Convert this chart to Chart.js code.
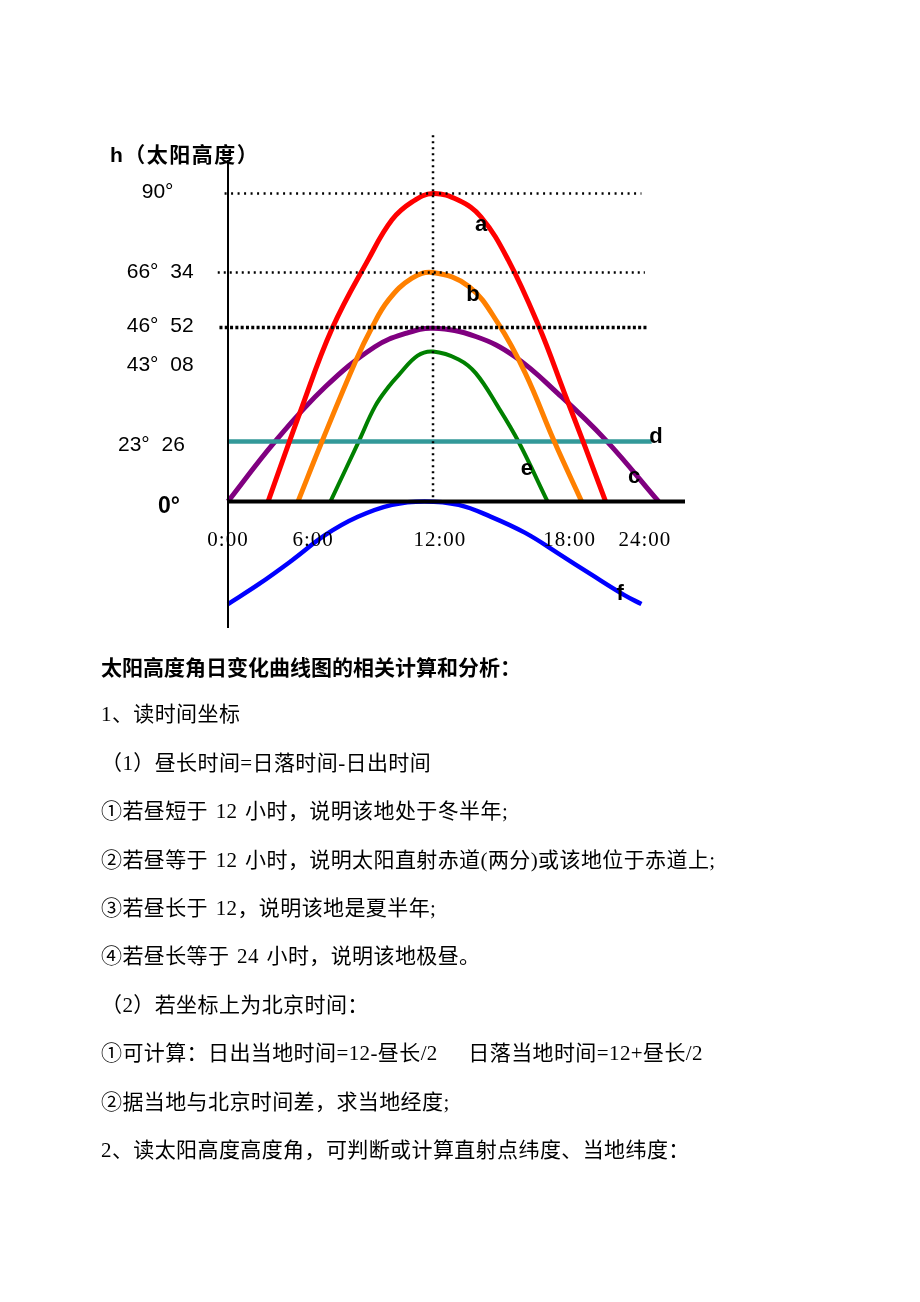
<!DOCTYPE html>
<html lang="zh-CN">
<head>
<meta charset="utf-8">
<title>太阳高度角日变化曲线图</title>
<script src="https://cdn.jsdelivr.net/npm/chart.js@4.4.1/dist/chart.umd.min.js"></script>
<style>
  html, body { margin: 0; padding: 0; background: #fff; }
  body { width: 920px; height: 1302px; position: relative; overflow: hidden; }
  #solarChart { position: absolute; left: 0; top: 0; }
  .notes {
    position: absolute;
    left: 101px;
    top: 642px;
    color: #000;
    font: 21px/48.4px "Liberation Serif", "Noto Sans CJK SC", serif;
  }
  .notes p { margin: 0; white-space: nowrap; word-spacing: 2px; letter-spacing: 0.4px; }
  .notes .title { font-family: "Noto Sans CJK SC", sans-serif; font-weight: bold; letter-spacing: 0; }
</style>
</head>
<body>
<canvas id="solarChart" width="920" height="650"></canvas>

<div class="notes">
  <p class="title">太阳高度角日变化曲线图的相关计算和分析：</p>
  <p>1、读时间坐标</p>
  <p>（1）昼长时间=日落时间-日出时间</p>
  <p>①若昼短于 12 小时，说明该地处于冬半年;</p>
  <p>②若昼等于 12 小时，说明太阳直射赤道(两分)或该地位于赤道上;</p>
  <p>③若昼长于 12，说明该地是夏半年;</p>
  <p>④若昼长等于 24 小时，说明该地极昼。</p>
  <p>（2）若坐标上为北京时间：</p>
  <p>①可计算：日出当地时间=12-昼长/2&nbsp;&nbsp;&nbsp;&nbsp;日落当地时间=12+昼长/2</p>
  <p>②据当地与北京时间差，求当地经度;</p>
  <p>2、读太阳高度高度角，可判断或计算直射点纬度、当地纬度：</p>
</div>

<script>
  // values (x = hour of day, y = sun altitude in the drawing's degrees)
  const curveAHours = [2.35, 4.2, 6.1, 8.2, 9.6, 10.8, 12, 13.5, 14.8, 16.4, 18.2, 19.7, 20.9, 22.1];
  const curveAAlt = [0, 25.8, 50.6, 70.6, 82.3, 87.6, 90, 88.0, 83.2, 70.6, 51.1, 31.6, 16.0, 0];

  const curveBHours = [4.1, 5.5, 7.5, 8.4, 9.4, 10.75, 12, 14.1, 15.8, 17.4, 19.1, 20.7];
  const curveBAlt = [0, 17.5, 41.3, 50.6, 58.9, 65.2, 66.9, 62.8, 52.1, 37.5, 17.5, 0];

  const curveCHours = [0, 2.75, 5.7, 8.6, 10.4, 12, 14.5, 16.8, 19.3, 22.1, 25.2];
  const curveCAlt = [0, 17.5, 33.5, 45.2, 49.1, 50.6, 48.2, 42.3, 31.6, 18.0, 0];

  const curveDHours = [0, 24.8];
  const curveDAlt = [17.5, 17.5];

  const curveEHours = [6.0, 7.65, 8.6, 9.4, 10.0, 11.1, 12, 13.5, 14.5, 15.8, 17.0, 18.7];
  const curveEAlt = [0, 17.5, 27.7, 33.5, 37.0, 42.6, 43.8, 41.5, 37.5, 27.7, 17.5, 0];

  const curveFHours = [0, 1.8, 3.7, 5.7, 7.6, 9.6, 11.5, 13.5, 15.4, 17.4, 19.3, 21.3, 23.2, 24.2];
  const curveFAlt = [-30.0, -24.2, -17.4, -9.8, -4.5, -1.0, 0, -1.0, -4.5, -9.2, -15.1, -21.5, -27.4, -30.0];

  // dotted reference levels and the noon line
  const guideLevels = [90, 66.9, 50.8];
  const guideFrom = [-0.2, -0.6, -0.5];
  const guideTo = [24.2, 24.4, 24.5];
  const noonHour = 12;
  const noonTop = 107;

  // axis labels
  const hourTicks = [0, 4.98, 12.4, 20.0, 24.4];
  const hourTickLabels = ['0:00', '6:00', '12:00', '18:00', '24:00'];
  const altTicks = [90.5, 66.9, 51.1, 39.9, 16.5, -1.6];
  const altTickLabels = ['90°', '66° 34', '46° 52', '43° 08', '23° 26', '0°'];

  // curve names and where they sit
  const curveNames = ['a', 'b', 'c', 'd', 'e', 'f'];
  const nameHours = [14.81, 14.34, 23.77, 25.05, 17.5, 22.95];
  const nameAlts = [80.8, 60.3, 7.2, 18.8, 9.5, -27.0];

  const yAxisTitle = 'h（太阳高度）';

  const toPoints = (hours, alts) => hours.map((h, i) => ({ x: h, y: alts[i] }));

  const curve = (hours, alts, color, width) => ({
    data: toPoints(hours, alts),
    borderColor: color,
    borderWidth: width,
    tension: 0.4,
    pointRadius: 0,
    clip: false,
  });

  const dotted = (points, dash, width) => ({
    data: points,
    borderColor: '#000',
    borderWidth: width,
    borderDash: dash,
    borderCapStyle: 'butt',
    pointRadius: 0,
    tension: 0,
    clip: false,
  });

  const guideDash = [[2, 4.5], [2, 4], [3, 2.3]];
  const guideWidth = [2.5, 2.5, 3.5];

  const guideSets = guideLevels.map((level, i) =>
    dotted(
      [{ x: guideFrom[i], y: level }, { x: guideTo[i], y: level }],
      guideDash[i],
      guideWidth[i]
    )
  );

  const noonSet = dotted(
    [{ x: noonHour, y: noonTop }, { x: noonHour, y: 0.4 }],
    [2, 4],
    2.5
  );

  /**
   * Axis lines, tick texts and curve letters, drawn through the scales
   */
  const diagramFurniture = {
    id: 'diagramFurniture',
    afterDatasetsDraw(chart) {
      const { ctx } = chart;
      const { x, y } = chart.scales;
      const x0 = x.getPixelForValue(0);

      ctx.save();
      ctx.strokeStyle = '#000';
      ctx.fillStyle = '#000';

      // vertical axis
      ctx.lineWidth = 2;
      ctx.beginPath();
      ctx.moveTo(x0, y.getPixelForValue(99.8));
      ctx.lineTo(x0, y.getPixelForValue(y.min));
      ctx.stroke();

      // horizontal axis (0°)
      ctx.lineWidth = 4;
      ctx.beginPath();
      ctx.moveTo(x0 - 0.5, y.getPixelForValue(0));
      ctx.lineTo(x.getPixelForValue(x.max), y.getPixelForValue(0));
      ctx.stroke();

      // hour labels
      ctx.font = '21px "Liberation Serif", serif';
      ctx.textAlign = 'center';
      ctx.textBaseline = 'middle';
      ctx.letterSpacing = '1px';
      hourTicks.forEach((h, i) => {
        ctx.fillText(hourTickLabels[i], x.getPixelForValue(h), y.getPixelForValue(-11.3));
      });
      ctx.letterSpacing = '0px';

      // altitude labels
      const labelLeft = [141.7, 126.7, 126.7, 126.7, 118, 158];
      ctx.textAlign = 'left';
      ctx.wordSpacing = '6px';
      altTicks.forEach((a, i) => {
        const isZero = i === altTicks.length - 1;
        ctx.font = isZero
          ? 'bold 23px "Liberation Sans", sans-serif'
          : '21px "Liberation Sans", sans-serif';
        ctx.fillText(altTickLabels[i], labelLeft[i], y.getPixelForValue(a));
      });
      ctx.wordSpacing = '0px';

      // axis title
      ctx.font = 'bold 21px "Liberation Sans", "Noto Sans CJK SC", sans-serif';
      ctx.letterSpacing = '1.5px';
      ctx.fillText(yAxisTitle, 110, 156);
      ctx.letterSpacing = '0px';

      // curve letters
      ctx.font = 'bold 22px "Liberation Sans", sans-serif';
      ctx.textAlign = 'center';
      curveNames.forEach((name, i) => {
        ctx.fillText(name, x.getPixelForValue(nameHours[i]), y.getPixelForValue(nameAlts[i]));
      });

      ctx.restore();
    },
  };

  const ctx = document.getElementById('solarChart').getContext('2d');

  new Chart(ctx, {
    type: 'line',
    data: {
      datasets: [
        noonSet,
        ...guideSets,
        curve(curveAHours, curveAAlt, '#ff0000', 5),
        curve(curveBHours, curveBAlt, '#ff8000', 5),
        curve(curveDHours, curveDAlt, '#339999', 4.5),
        curve(curveEHours, curveEAlt, '#008000', 4),
        curve(curveCHours, curveCAlt, '#800080', 5),
        curve(curveFHours, curveFAlt, '#0000ff', 4.5),
      ],
    },
    options: {
      responsive: false,
      animation: false,
      events: [],
      layout: { padding: { left: 228, right: 235, top: 135, bottom: 22 } },
      scales: {
        x: { type: 'linear', display: false, min: 0, max: 26.75 },
        y: { type: 'linear', display: false, min: -37, max: 107.1 },
      },
      plugins: {
        legend: { display: false },
        tooltip: { enabled: false },
      },
    },
    plugins: [diagramFurniture],
  });
</script>
</body>
</html>
